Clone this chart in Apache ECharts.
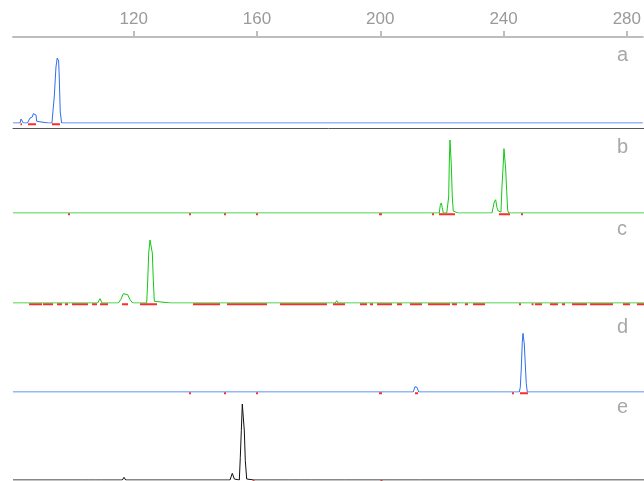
<!DOCTYPE html>
<html><head><meta charset="utf-8">
<script src="https://cdn.jsdelivr.net/npm/echarts@6/dist/echarts.min.js"></script>
<style>html,body{margin:0;padding:0;background:#fff}#c{width:644px;height:481px}</style>
</head><body><div id="c"></div>
<script>
const xMin = 80.8, xMax = 285.2;
const tickValues = [120, 160, 200, 240, 280];
const panelLabels = ['a', 'b', 'c', 'd', 'e'];

const traceA = [[80.8,0],[83.08,0],[83.40,4],[83.89,4],[84.15,0],[85.50,0],[85.77,1.7],[86.32,5],[87.06,6],[87.39,9.3],[87.94,10.7],[88.26,8],[88.49,1.7],[88.68,0],[92.24,0],[92.47,1.7],[92.79,0],[93.44,0],[93.86,15],[94.19,26],[94.74,56],[95.16,65],[95.39,63],[95.61,62],[95.81,46],[96.13,11],[96.58,0],[285.2,0]];

const traceB = [[80.8,0],[216.52,0],[216.75,1.2],[216.97,0],[218.88,0],[219.21,7.7],[219.53,10],[219.86,5.3],[220.18,0],[221.3,0],[221.61,1],[221.93,16],[222.12,49],[222.35,73],[222.58,73.3],[222.77,49],[223.10,16],[223.42,2],[223.74,0],[224.9,0],[225.36,1],[225.8,0],[233.6,0],[234.01,1.5],[234.4,0],[235.95,0],[236.18,1],[236.70,11],[237.15,13.3],[237.57,5.3],[237.99,2],[238.38,0],[238.6,0],[238.87,1],[239.19,26],[239.52,44],[239.84,64.3],[240.16,62.7],[240.39,44],[240.71,22.7],[241.04,2.7],[241.36,0],[242.4,0],[242.85,2],[243.3,0],[285.2,0]];

const traceC = [[80.8,0],
[86.0,0],[86.32,1.5],[86.6,0],
[90.9,0],[91.18,1.5],[91.5,0],
[96.4,0],[96.68,1.5],[97.0,0],
[100.6,0],[100.89,1.5],[101.2,0],
[103.8,0],[104.13,1.5],[104.4,0],
[108.24,0],[108.99,4.3],[109.64,0],
[114.92,0],[115.69,3.3],[116.54,9.3],[117.18,10.7],[117.96,8.3],[118.71,3.3],[119.58,0],
[124.11,0],[124.44,23],[124.76,50],[125.18,63],[125.60,64.3],[125.93,50],[126.25,23],[126.58,1.7],[127.03,0],
[131.9,0],[132.31,1.3],[132.7,0],
[141.1,0],[141.38,1.5],[141.7,0],
[145.9,0],[146.24,1.5],[146.5,0],
[154.0,0],[154.33,1.5],[154.6,0],
[161.2,0],[161.46,1.5],[161.8,0],
[170.2,0],[170.53,1.5],[170.8,0],
[185.2,0],[185.65,2.3],[186.1,0],
[199.4,0],[199.68,1.5],[200.0,0],
[205.9,0],[206.16,1.5],[206.5,0],
[217.2,0],[217.49,1.5],[217.8,0],
[231.1,0],[231.42,1.5],[231.7,0],
[244.7,0],[245.02,1.5],[245.3,0],
[256.1,0],[256.36,1.5],[256.7,0],
[265.8,0],[266.08,1.5],[266.4,0],
[272.3,0],[272.55,1.5],[272.9,0],
[279.7,0],[280.00,1.5],[280.3,0],
[285.2,0]];

const traceD = [[80.8,0],[210.46,0],[211.01,5.3],[211.34,7.3],[211.66,4.7],[212.21,0],[242.1,0],[242.53,1],[242.9,0],[244.80,0],[245.12,4.7],[245.44,23],[245.77,49.7],[246.00,58.7],[246.22,57.3],[246.42,48],[246.74,28],[247.06,8.7],[247.39,0],[285.2,0]];

const traceE = [[80.8,0],
[102.9,0],[103.16,1],[103.4,0],
[105.5,0],[105.75,1.5],[106.0,0],
[107.4,0],[107.69,2],[108.0,0],
[109.4,0],[109.64,1.2],[109.9,0],
[116.2,0],[116.76,2.7],[117.3,0],
[132.0,0],[132.31,1],[132.6,0],
[151.09,0],[151.84,6.7],[152.49,1],[153.04,0],
[154.11,0],[154.43,22.7],[154.76,49.3],[155.08,76],[155.40,76],[155.73,49],[156.05,19.3],[156.50,1],[156.92,0],
[158.9,0],[159.19,1.5],[159.5,0],
[161.2,0],[161.46,1.2],[161.7,0],
[163.8,0],[164.05,1.5],[164.3,0],
[167.0,0],[167.29,1],[167.6,0],
[170.3,0],[170.53,1.5],[170.8,0],
[173.5,0],[173.77,1.2],[174.0,0],
[177.4,0],[177.65,1],[177.9,0],
[180.6,0],[180.89,1.5],[181.2,0],
[183.2,0],[183.48,1],[183.7,0],
[188.1,0],[188.34,1.2],[188.6,0],
[192.9,0],[193.20,1],[193.5,0],
[204.9,0],[205.19,1.5],[205.5,0],
[212.4,0],[212.63,1],[212.9,0],
[218.8,0],[219.11,1.2],[219.4,0],
[231.8,0],[232.07,1],[232.3,0],
[244.7,0],[245.02,1.5],[245.3,0],
[257.7,0],[257.98,1],[258.3,0],
[262.6,0],[262.84,1.5],[263.1,0],
[267.4,0],[267.70,1.2],[268.0,0],
[277.1,0],[277.41,1],[277.7,0],
[282.0,0],[282.27,1.2],[282.5,0],
[285.2,0]];

const redA = [[83.24,83.73],[85.67,88.26],[93.44,96.03]];
const redB = [[98.62,99.27],[137.82,138.46],[149.15,149.80],[159.52,160.16],[199.35,200.33],[216.52,217.17],[218.79,223.97],[238.22,241.78],[245.35,246.00]];
const redC = [[86.00,90.20],[90.53,93.77],[95.06,96.68],[97.65,98.62],[99.92,105.10],[106.40,108.02],[108.99,111.58],[116.11,118.06],[121.94,127.45],[139.11,147.86],[150.12,163.08],[167.29,182.51],[184.45,188.34],[193.20,195.47],[196.44,197.41],[198.71,203.57],[205.19,206.80],[209.40,213.28],[215.23,222.35],[222.99,224.61],[227.21,228.18],[229.80,233.69],[244.70,245.35],[248.80,249.40],[249.88,252.15],[254.74,257.33],[258.63,259.60],[261.87,266.73],[267.70,275.15],[278.38,280.65],[282.91,285.20]];
const redD = [[137.82,138.46],[149.15,149.80],[159.52,160.16],[199.35,200.33],[211.01,211.99],[242.43,243.08],[245.02,247.61]];
const redE = [[158.38,159.03],[199.84,200.49]];
const redLevel = -1.2;

const traces = [traceA, traceB, traceC, traceD, traceE];
const reds = [redA, redB, redC, redD, redE];
const colors = ['#2f6fec', '#14c814', '#14c814', '#2f6fec', '#111111'];
const gridTops = [37, 128, 218, 307, 395];
const gridHeights = [86, 85, 85, 85, 85];
const labelY = [57, 149, 231, 329, 409];

function segs(list) {
  const out = [];
  list.forEach(([s, e]) => { out.push([s, redLevel], [e, redLevel], [e, null]); });
  return out;
}

const chart = echarts.init(document.getElementById('c'), null, {renderer: 'canvas'});
const grid = [], xAxis = [], yAxis = [], series = [], graphic = [];
for (let i = 0; i < 5; i++) {
  grid.push({left: 13, right: 0, top: gridTops[i], height: gridHeights[i]});
  const ax = {type: 'value', gridIndex: i, min: xMin, max: xMax, splitLine: {show: false}};
  if (i === 0) {
    Object.assign(ax, {
      position: 'top',
      axisLine: {show: true, onZero: false, lineStyle: {color: '#bdbdbd', width: 2}},
      axisTick: {show: true, customValues: tickValues, length: 6, lineStyle: {color: '#bdbdbd', width: 2}},
      axisLabel: {show: true, customValues: tickValues, color: '#9a9a9a', fontSize: 17, fontFamily: 'Liberation Sans', margin: 9}
    });
  } else if (i === 1) {
    Object.assign(ax, {
      position: 'top',
      axisLine: {show: true, onZero: false, lineStyle: {color: '#555', width: 1}},
      axisTick: {show: false}, axisLabel: {show: false}
    });
  } else {
    ax.show = false;
  }
  xAxis.push(ax);
  yAxis.push({type: 'value', gridIndex: i, min: 0, max: gridHeights[i], show: false, splitLine: {show: false}});
  series.push({
    type: 'line', xAxisIndex: i, yAxisIndex: i, data: segs(reds[i]), showSymbol: false, clip: false,
    connectNulls: false, lineStyle: {color: '#ff2a2a', width: 2}, z: 2, silent: true
  });
  series.push({
    type: 'line', xAxisIndex: i, yAxisIndex: i, data: traces[i], showSymbol: false,
    lineStyle: {color: colors[i], width: 1}, z: 3, silent: true
  });
  graphic.push({
    type: 'text', left: 617, top: labelY[i] - 12,
    style: {text: panelLabels[i], fill: '#a8a8a8', font: '20px "Liberation Sans"'}
  });
}

chart.setOption({animation: false, grid, xAxis, yAxis, series, graphic});
</script></body></html>
